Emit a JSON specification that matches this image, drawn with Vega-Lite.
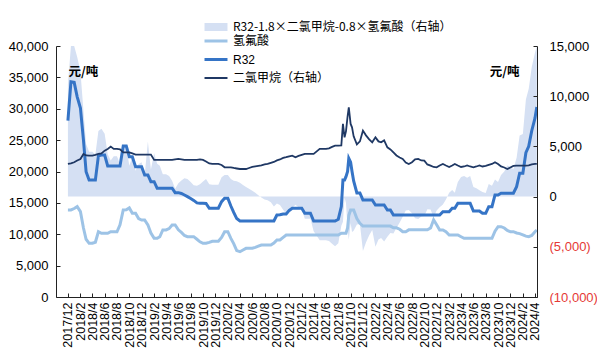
{
  "$schema": "https://vega.github.io/schema/vega-lite/v6.json",
  "width": 481,
  "height": 251,
  "autosize": {"type": "none"},
  "padding": {"left": 56, "top": 46, "right": 60, "bottom": 59},
  "background": "white",
  "config": {
    "font": "Liberation Sans, Noto Sans CJK SC",
    "view": {"stroke": null},
    "axis": {
      "grid": false,
      "domainColor": "#222222",
      "tickColor": "#222222",
      "labelColor": "#000000",
      "titleColor": "#000000",
      "tickSize": -4,
      "domainWidth": 1,
      "tickWidth": 1,
      "labelFont": "Liberation Sans, Noto Sans CJK SC",
      "titleFont": "Noto Sans CJK SC",
      "labelFontSize": 13
    }
  },
  "data": {
    "values": [
      {"date": "2017/12/01", "R32": 28100, "HF": 13870, "DCM": 3250, "spread": 11154},
      {"date": "2017/12/16", "R32": 34300, "HF": 13870, "DCM": 3300, "spread": 15000},
      {"date": "2018/01/01", "R32": 34200, "HF": 14100, "DCM": 3420, "spread": 15000},
      {"date": "2018/01/16", "R32": 31900, "HF": 14400, "DCM": 3600, "spread": 13900},
      {"date": "2018/02/01", "R32": 30100, "HF": 13600, "DCM": 3750, "spread": 12470},
      {"date": "2018/02/16", "R32": 25000, "HF": 11000, "DCM": 4250, "spread": 8550},
      {"date": "2018/03/01", "R32": 19970, "HF": 9200, "DCM": 4100, "spread": 5230},
      {"date": "2018/03/16", "R32": 18650, "HF": 8560, "DCM": 4080, "spread": 4458},
      {"date": "2018/04/01", "R32": 18650, "HF": 8560, "DCM": 4080, "spread": 4458},
      {"date": "2018/04/16", "R32": 18650, "HF": 8720, "DCM": 4150, "spread": 4204},
      {"date": "2018/05/01", "R32": 22500, "HF": 10400, "DCM": 4250, "spread": 6530},
      {"date": "2018/05/16", "R32": 22630, "HF": 10150, "DCM": 4300, "spread": 6770},
      {"date": "2018/06/01", "R32": 22630, "HF": 10150, "DCM": 4580, "spread": 6266},
      {"date": "2018/06/16", "R32": 20880, "HF": 10150, "DCM": 4750, "spread": 4210},
      {"date": "2018/07/01", "R32": 20880, "HF": 10400, "DCM": 4980, "spread": 3596},
      {"date": "2018/07/16", "R32": 20880, "HF": 10400, "DCM": 4750, "spread": 4010},
      {"date": "2018/08/01", "R32": 20880, "HF": 10400, "DCM": 4750, "spread": 4010},
      {"date": "2018/08/16", "R32": 20880, "HF": 11500, "DCM": 4700, "spread": 3220},
      {"date": "2018/09/01", "R32": 24070, "HF": 13870, "DCM": 4410, "spread": 5036},
      {"date": "2018/09/16", "R32": 24070, "HF": 13900, "DCM": 4410, "spread": 5012},
      {"date": "2018/10/01", "R32": 22360, "HF": 14200, "DCM": 4410, "spread": 3062},
      {"date": "2018/10/16", "R32": 22360, "HF": 13340, "DCM": 4300, "spread": 3948},
      {"date": "2018/11/01", "R32": 20770, "HF": 13340, "DCM": 4180, "spread": 2574},
      {"date": "2018/11/16", "R32": 20770, "HF": 12500, "DCM": 4180, "spread": 3246},
      {"date": "2018/12/01", "R32": 20770, "HF": 12270, "DCM": 4180, "spread": 3430},
      {"date": "2018/12/16", "R32": 19450, "HF": 12270, "DCM": 4180, "spread": 2110},
      {"date": "2019/01/01", "R32": 19450, "HF": 11500, "DCM": 4180, "spread": 5500},
      {"date": "2019/01/16", "R32": 18380, "HF": 10200, "DCM": 4180, "spread": 2696},
      {"date": "2019/02/01", "R32": 18380, "HF": 9350, "DCM": 3650, "spread": 4330},
      {"date": "2019/02/16", "R32": 17330, "HF": 9350, "DCM": 3650, "spread": 3280},
      {"date": "2019/03/01", "R32": 17330, "HF": 9600, "DCM": 3650, "spread": 3080},
      {"date": "2019/03/16", "R32": 17330, "HF": 10680, "DCM": 3650, "spread": 2216},
      {"date": "2019/04/01", "R32": 17330, "HF": 10680, "DCM": 3650, "spread": 2216},
      {"date": "2019/04/16", "R32": 17330, "HF": 10900, "DCM": 3650, "spread": 2040},
      {"date": "2019/05/01", "R32": 17330, "HF": 11480, "DCM": 3650, "spread": 1576},
      {"date": "2019/05/16", "R32": 16630, "HF": 11480, "DCM": 3700, "spread": 786},
      {"date": "2019/06/01", "R32": 16630, "HF": 10700, "DCM": 3750, "spread": 1320},
      {"date": "2019/06/16", "R32": 16500, "HF": 10300, "DCM": 3700, "spread": 1600},
      {"date": "2019/07/01", "R32": 16250, "HF": 9800, "DCM": 3650, "spread": 1840},
      {"date": "2019/07/16", "R32": 16000, "HF": 9610, "DCM": 3650, "spread": 1742},
      {"date": "2019/08/01", "R32": 15700, "HF": 9610, "DCM": 3650, "spread": 1442},
      {"date": "2019/08/16", "R32": 15400, "HF": 9610, "DCM": 3650, "spread": 1142},
      {"date": "2019/09/01", "R32": 15000, "HF": 9200, "DCM": 3650, "spread": 1070},
      {"date": "2019/09/16", "R32": 14930, "HF": 8800, "DCM": 3700, "spread": 1230},
      {"date": "2019/10/01", "R32": 14930, "HF": 8560, "DCM": 3650, "spread": 1512},
      {"date": "2019/10/16", "R32": 14900, "HF": 8560, "DCM": 3500, "spread": 1752},
      {"date": "2019/11/01", "R32": 14140, "HF": 8700, "DCM": 3300, "spread": 1240},
      {"date": "2019/11/16", "R32": 14140, "HF": 8880, "DCM": 3250, "spread": 1186},
      {"date": "2019/12/01", "R32": 14140, "HF": 8880, "DCM": 3250, "spread": 1186},
      {"date": "2019/12/16", "R32": 14140, "HF": 8880, "DCM": 3250, "spread": 1186},
      {"date": "2020/01/01", "R32": 15200, "HF": 9500, "DCM": 3150, "spread": 1930},
      {"date": "2020/01/16", "R32": 15730, "HF": 10410, "DCM": 2920, "spread": 2146},
      {"date": "2020/02/01", "R32": 15730, "HF": 10410, "DCM": 2920, "spread": 2146},
      {"date": "2020/02/16", "R32": 14500, "HF": 9350, "DCM": 2920, "spread": 1764},
      {"date": "2020/03/01", "R32": 13500, "HF": 8500, "DCM": 2850, "spread": 1570},
      {"date": "2020/03/16", "R32": 12500, "HF": 7400, "DCM": 2800, "spread": 1540},
      {"date": "2020/04/01", "R32": 12110, "HF": 7220, "DCM": 2750, "spread": 1384},
      {"date": "2020/04/16", "R32": 12110, "HF": 7500, "DCM": 2750, "spread": 1160},
      {"date": "2020/05/01", "R32": 12110, "HF": 7760, "DCM": 2750, "spread": 952},
      {"date": "2020/05/16", "R32": 12110, "HF": 7760, "DCM": 2850, "spread": 772},
      {"date": "2020/06/01", "R32": 12110, "HF": 7760, "DCM": 2950, "spread": 592},
      {"date": "2020/06/16", "R32": 12110, "HF": 7900, "DCM": 3000, "spread": 390},
      {"date": "2020/07/01", "R32": 12110, "HF": 8100, "DCM": 3050, "spread": 140},
      {"date": "2020/07/16", "R32": 12110, "HF": 8290, "DCM": 3100, "spread": -102},
      {"date": "2020/08/01", "R32": 12110, "HF": 8290, "DCM": 3200, "spread": -282},
      {"date": "2020/08/16", "R32": 12110, "HF": 8290, "DCM": 3250, "spread": -372},
      {"date": "2020/09/01", "R32": 12110, "HF": 8290, "DCM": 3350, "spread": -552},
      {"date": "2020/09/16", "R32": 12110, "HF": 8600, "DCM": 3450, "spread": -980},
      {"date": "2020/10/01", "R32": 13070, "HF": 9090, "DCM": 3600, "spread": -682},
      {"date": "2020/10/16", "R32": 13100, "HF": 9090, "DCM": 3700, "spread": -832},
      {"date": "2020/11/01", "R32": 13230, "HF": 9500, "DCM": 3850, "spread": -1300},
      {"date": "2020/11/16", "R32": 13230, "HF": 9880, "DCM": 3920, "spread": -1730},
      {"date": "2020/12/01", "R32": 13800, "HF": 9880, "DCM": 4000, "spread": -1304},
      {"date": "2020/12/16", "R32": 14140, "HF": 9880, "DCM": 4080, "spread": -1108},
      {"date": "2021/01/01", "R32": 14140, "HF": 9880, "DCM": 3920, "spread": -820},
      {"date": "2021/01/16", "R32": 14140, "HF": 9880, "DCM": 4050, "spread": -1054},
      {"date": "2021/02/01", "R32": 14140, "HF": 9880, "DCM": 4150, "spread": -1234},
      {"date": "2021/02/16", "R32": 13340, "HF": 9880, "DCM": 4250, "spread": -2214},
      {"date": "2021/03/01", "R32": 13340, "HF": 9880, "DCM": 4250, "spread": -2214},
      {"date": "2021/03/16", "R32": 13340, "HF": 9880, "DCM": 4250, "spread": -2214},
      {"date": "2021/04/01", "R32": 12110, "HF": 9880, "DCM": 4250, "spread": -3444},
      {"date": "2021/04/16", "R32": 12110, "HF": 9880, "DCM": 4500, "spread": -3894},
      {"date": "2021/05/01", "R32": 12110, "HF": 9880, "DCM": 4750, "spread": -4344},
      {"date": "2021/05/16", "R32": 12110, "HF": 9880, "DCM": 4750, "spread": -4344},
      {"date": "2021/06/01", "R32": 12110, "HF": 9880, "DCM": 4750, "spread": -4344},
      {"date": "2021/06/16", "R32": 12110, "HF": 9880, "DCM": 4800, "spread": -4434},
      {"date": "2021/07/01", "R32": 12110, "HF": 9880, "DCM": 4950, "spread": -4704},
      {"date": "2021/07/16", "R32": 12110, "HF": 9880, "DCM": 5080, "spread": -4938},
      {"date": "2021/08/01", "R32": 12400, "HF": 9880, "DCM": 5080, "spread": -4648},
      {"date": "2021/08/16", "R32": 14400, "HF": 10150, "DCM": 5100, "spread": -2900},
      {"date": "2021/08/24", "R32": 18650, "HF": 10150, "DCM": 7240, "spread": -2502},
      {"date": "2021/09/01", "R32": 18650, "HF": 10150, "DCM": 5900, "spread": -90},
      {"date": "2021/09/08", "R32": 19180, "HF": 10150, "DCM": 6500, "spread": -640},
      {"date": "2021/09/16", "R32": 20000, "HF": 11000, "DCM": 8000, "spread": -3200},
      {"date": "2021/09/22", "R32": 22100, "HF": 13000, "DCM": 8890, "spread": -4302},
      {"date": "2021/10/01", "R32": 21500, "HF": 13870, "DCM": 7240, "spread": -2628},
      {"date": "2021/10/08", "R32": 20000, "HF": 13870, "DCM": 6900, "spread": -3516},
      {"date": "2021/10/16", "R32": 18500, "HF": 13870, "DCM": 6000, "spread": -3396},
      {"date": "2021/11/01", "R32": 16580, "HF": 12500, "DCM": 5200, "spread": -2780},
      {"date": "2021/11/16", "R32": 16580, "HF": 11750, "DCM": 5500, "spread": -2720},
      {"date": "2021/12/01", "R32": 15460, "HF": 11300, "DCM": 6570, "spread": -5406},
      {"date": "2021/12/16", "R32": 15460, "HF": 11300, "DCM": 6100, "spread": -4560},
      {"date": "2022/01/01", "R32": 15460, "HF": 11300, "DCM": 5700, "spread": -3840},
      {"date": "2022/01/16", "R32": 15460, "HF": 11300, "DCM": 5410, "spread": -3318},
      {"date": "2022/02/01", "R32": 14660, "HF": 11300, "DCM": 5900, "spread": -5000},
      {"date": "2022/02/16", "R32": 14660, "HF": 11300, "DCM": 5500, "spread": -4280},
      {"date": "2022/03/01", "R32": 14660, "HF": 11300, "DCM": 5410, "spread": -4118},
      {"date": "2022/03/16", "R32": 14660, "HF": 11300, "DCM": 5600, "spread": -4460},
      {"date": "2022/04/01", "R32": 13870, "HF": 11300, "DCM": 4910, "spread": -4008},
      {"date": "2022/04/16", "R32": 13870, "HF": 11300, "DCM": 4700, "spread": -3630},
      {"date": "2022/05/01", "R32": 13070, "HF": 11030, "DCM": 4400, "spread": -3674},
      {"date": "2022/05/16", "R32": 13070, "HF": 11030, "DCM": 4100, "spread": -3134},
      {"date": "2022/06/01", "R32": 13070, "HF": 10800, "DCM": 3900, "spread": -2590},
      {"date": "2022/06/16", "R32": 13070, "HF": 10410, "DCM": 3750, "spread": -2008},
      {"date": "2022/07/01", "R32": 13070, "HF": 10410, "DCM": 3400, "spread": -1378},
      {"date": "2022/07/16", "R32": 13070, "HF": 10700, "DCM": 3250, "spread": -1340},
      {"date": "2022/08/01", "R32": 13070, "HF": 10700, "DCM": 3420, "spread": -1646},
      {"date": "2022/08/16", "R32": 13070, "HF": 10700, "DCM": 3700, "spread": -2150},
      {"date": "2022/09/01", "R32": 13070, "HF": 10700, "DCM": 3750, "spread": -2240},
      {"date": "2022/09/16", "R32": 13070, "HF": 10700, "DCM": 3600, "spread": -1970},
      {"date": "2022/10/01", "R32": 13070, "HF": 10700, "DCM": 3580, "spread": -1934},
      {"date": "2022/10/16", "R32": 13070, "HF": 10700, "DCM": 3200, "spread": -1250},
      {"date": "2022/11/01", "R32": 13070, "HF": 11000, "DCM": 3090, "spread": -1292},
      {"date": "2022/11/16", "R32": 13070, "HF": 12300, "DCM": 2950, "spread": -2080},
      {"date": "2022/12/01", "R32": 13070, "HF": 11500, "DCM": 2920, "spread": -1386},
      {"date": "2022/12/16", "R32": 13070, "HF": 10680, "DCM": 3100, "spread": -1054},
      {"date": "2023/01/01", "R32": 13600, "HF": 10680, "DCM": 3250, "spread": -794},
      {"date": "2023/01/16", "R32": 13600, "HF": 10400, "DCM": 3100, "spread": -300},
      {"date": "2023/02/01", "R32": 13600, "HF": 9880, "DCM": 2950, "spread": 386},
      {"date": "2023/02/16", "R32": 14140, "HF": 9880, "DCM": 3100, "spread": 656},
      {"date": "2023/03/01", "R32": 14140, "HF": 9880, "DCM": 3250, "spread": 386},
      {"date": "2023/03/16", "R32": 14930, "HF": 9880, "DCM": 3100, "spread": 1446},
      {"date": "2023/04/01", "R32": 14930, "HF": 9600, "DCM": 2950, "spread": 1940},
      {"date": "2023/04/16", "R32": 14930, "HF": 9350, "DCM": 3000, "spread": 2050},
      {"date": "2023/05/01", "R32": 14930, "HF": 9350, "DCM": 3100, "spread": 1870},
      {"date": "2023/05/16", "R32": 14930, "HF": 9350, "DCM": 3000, "spread": 2050},
      {"date": "2023/06/01", "R32": 13700, "HF": 9350, "DCM": 2920, "spread": 964},
      {"date": "2023/06/16", "R32": 13700, "HF": 9350, "DCM": 3000, "spread": 820},
      {"date": "2023/07/01", "R32": 13700, "HF": 9350, "DCM": 3100, "spread": 640},
      {"date": "2023/07/16", "R32": 13340, "HF": 9350, "DCM": 3000, "spread": 460},
      {"date": "2023/08/01", "R32": 13340, "HF": 9350, "DCM": 3050, "spread": 370},
      {"date": "2023/08/16", "R32": 14400, "HF": 9350, "DCM": 3150, "spread": 1250},
      {"date": "2023/09/01", "R32": 14400, "HF": 9350, "DCM": 3250, "spread": 1070},
      {"date": "2023/09/16", "R32": 16260, "HF": 10500, "DCM": 3420, "spread": 1704},
      {"date": "2023/10/01", "R32": 16260, "HF": 11210, "DCM": 3250, "spread": 1442},
      {"date": "2023/10/16", "R32": 16530, "HF": 11210, "DCM": 3000, "spread": 2162},
      {"date": "2023/11/01", "R32": 16530, "HF": 11000, "DCM": 2900, "spread": 2510},
      {"date": "2023/11/16", "R32": 16530, "HF": 10600, "DCM": 2750, "spread": 3100},
      {"date": "2023/12/01", "R32": 16530, "HF": 10410, "DCM": 2900, "spread": 2982},
      {"date": "2023/12/16", "R32": 16530, "HF": 10410, "DCM": 3050, "spread": 2712},
      {"date": "2024/01/01", "R32": 17580, "HF": 10200, "DCM": 3090, "spread": 3858},
      {"date": "2024/01/16", "R32": 19720, "HF": 10100, "DCM": 3090, "spread": 6078},
      {"date": "2024/02/01", "R32": 19720, "HF": 9900, "DCM": 3090, "spread": 6238},
      {"date": "2024/02/16", "R32": 23000, "HF": 9700, "DCM": 3090, "spread": 9678},
      {"date": "2024/03/01", "R32": 24000, "HF": 9610, "DCM": 3100, "spread": 10732},
      {"date": "2024/03/16", "R32": 26500, "HF": 9800, "DCM": 3200, "spread": 12900},
      {"date": "2024/04/01", "R32": 28500, "HF": 10400, "DCM": 3250, "spread": 14330},
      {"date": "2024/04/10", "R32": 30300, "HF": 10680, "DCM": 3250, "spread": 15000}
    ]
  },
  "encoding": {
    "x": {
      "field": "date",
      "type": "temporal",
      "scale": {"domain": [{"year": 2017, "month": 10, "date": 3}, {"year": 2024, "month": 4, "date": 11}]},
      "axis": {
        "title": null,
        "orient": "bottom",
        "format": "%Y/%-m",
        "labelAngle": -90,
        "labelFontSize": 12.5,
        "labelPadding": 9,
        "labelOverlap": false,
        "labelFlush": false,
        "labelBound": false,
        "zindex": 1,
        "values": [
          {"year": 2017, "month": 12, "date": 1},
          {"year": 2018, "month": 2, "date": 1}, {"year": 2018, "month": 4, "date": 1}, {"year": 2018, "month": 6, "date": 1}, {"year": 2018, "month": 8, "date": 1}, {"year": 2018, "month": 10, "date": 1}, {"year": 2018, "month": 12, "date": 1},
          {"year": 2019, "month": 2, "date": 1}, {"year": 2019, "month": 4, "date": 1}, {"year": 2019, "month": 6, "date": 1}, {"year": 2019, "month": 8, "date": 1}, {"year": 2019, "month": 10, "date": 1}, {"year": 2019, "month": 12, "date": 1},
          {"year": 2020, "month": 2, "date": 1}, {"year": 2020, "month": 4, "date": 1}, {"year": 2020, "month": 6, "date": 1}, {"year": 2020, "month": 8, "date": 1}, {"year": 2020, "month": 10, "date": 1}, {"year": 2020, "month": 12, "date": 1},
          {"year": 2021, "month": 2, "date": 1}, {"year": 2021, "month": 4, "date": 1}, {"year": 2021, "month": 6, "date": 1}, {"year": 2021, "month": 8, "date": 1}, {"year": 2021, "month": 10, "date": 1}, {"year": 2021, "month": 12, "date": 1},
          {"year": 2022, "month": 2, "date": 1}, {"year": 2022, "month": 4, "date": 1}, {"year": 2022, "month": 6, "date": 1}, {"year": 2022, "month": 8, "date": 1}, {"year": 2022, "month": 10, "date": 1}, {"year": 2022, "month": 12, "date": 1},
          {"year": 2023, "month": 2, "date": 1}, {"year": 2023, "month": 4, "date": 1}, {"year": 2023, "month": 6, "date": 1}, {"year": 2023, "month": 8, "date": 1}, {"year": 2023, "month": 10, "date": 1}, {"year": 2023, "month": 12, "date": 1},
          {"year": 2024, "month": 2, "date": 1}, {"year": 2024, "month": 4, "date": 1}
        ]
      }
    }
  },
  "layer": [
    {
      "mark": {"type": "area", "clip": true},
      "encoding": {
        "y": {
          "field": "spread",
          "type": "quantitative",
          "scale": {"domain": [-10000, 15000], "nice": false, "zero": false},
          "axis": {
            "orient": "right",
            "zindex": 1,
            "values": [-10000, -5000, 0, 5000, 10000, 15000],
            "labelExpr": "datum.value < 0 ? '(' + format(-datum.value, ',') + ')' : format(datum.value, ',')",
            "labelColor": {"condition": {"test": "datum.value < 0", "value": "#E53935"}, "value": "#000000"},
            "labelPadding": 16,
            "title": "元/吨",
            "titleAngle": 0,
            "titleAlign": "right",
            "titleBaseline": "alphabetic",
            "titleX": -18,
            "titleY": 29,
            "titleFontSize": 12.5,
            "titleFontWeight": "bold"
          }
        },
        "fill": {
          "datum": "R32-1.8×二氯甲烷-0.8×氢氟酸（右轴）",
          "type": "nominal",
          "scale": {"range": ["#D5E0F3"]},
          "legend": {
            "orient": "none",
            "legendX": 154,
            "legendY": -25,
            "title": null,
            "padding": 0,
            "labelFontSize": 12,
            "labelFont": "Noto Sans CJK SC",
            "labelColor": "#000000",
            "labelLimit": 400,
            "labelOffset": 11,
            "symbolSize": 132,
            "encode": {
              "symbols": {
                "update": {
                  "shape": {"value": "M-2,-0.7H2V0.7H-2Z"},
                  "fill": {"value": "#D5E0F3"},
                  "strokeWidth": {"value": 0},
                  "opacity": {"value": 1}
                }
              }
            }
          }
        }
      }
    },
    {
      "encoding": {
        "y": {
          "type": "quantitative",
          "scale": {"domain": [0, 40000], "nice": false},
          "axis": {
            "orient": "left",
            "zindex": 1,
            "values": [0, 5000, 10000, 15000, 20000, 25000, 30000, 35000, 40000],
            "labelExpr": "format(datum.value, ',')",
            "labelPadding": 12,
            "title": "元/吨",
            "titleAngle": 0,
            "titleAlign": "left",
            "titleBaseline": "alphabetic",
            "titleX": 12,
            "titleY": 29,
            "titleFontSize": 12.5,
            "titleFontWeight": "bold"
          }
        }
      },
      "layer": [
        {
          "mark": {"type": "line", "strokeWidth": 3, "clip": true},
          "encoding": {
            "y": {"field": "HF", "type": "quantitative"},
            "stroke": {
              "datum": "氢氟酸",
              "type": "nominal",
              "scale": {
                "domain": ["氢氟酸", "R32", "二氯甲烷（右轴）"],
                "range": ["#9DC3E6", "#3574C6", "#1F3864"]
              },
              "legend": {
                "orient": "none",
                "legendX": 154,
                "legendY": -11,
                "title": null,
                "padding": 0,
                "labelFontSize": 12,
                "labelFont": "Liberation Sans, Noto Sans CJK SC",
                "labelColor": "#000000",
                "labelLimit": 400,
                "labelOffset": 11,
                "symbolSize": 132,
                "rowPadding": 6.5,
                "encode": {
                  "symbols": {
                    "update": {
                      "shape": {"value": "M-2,0H2"},
                      "fill": {"value": "transparent"},
                      "stroke": {"signal": "scale('stroke', datum.value)"},
                      "strokeWidth": {"signal": "datum.value === '二氯甲烷（右轴）' ? 2 : 3"},
                      "opacity": {"value": 1}
                    }
                  }
                }
              }
            }
          }
        },
        {
          "mark": {"type": "line", "strokeWidth": 3, "clip": true},
          "encoding": {
            "y": {"field": "R32", "type": "quantitative"},
            "stroke": {"datum": "R32", "type": "nominal"}
          }
        }
      ]
    },
    {
      "mark": {"type": "line", "strokeWidth": 1.8, "clip": true},
      "encoding": {
        "y": {
          "field": "DCM",
          "type": "quantitative",
          "scale": {"domain": [-10000, 15000], "nice": false, "zero": false},
          "axis": null
        },
        "stroke": {"datum": "二氯甲烷（右轴）", "type": "nominal"}
      }
    }
  ],
  "resolve": {"scale": {"y": "independent"}}
}
